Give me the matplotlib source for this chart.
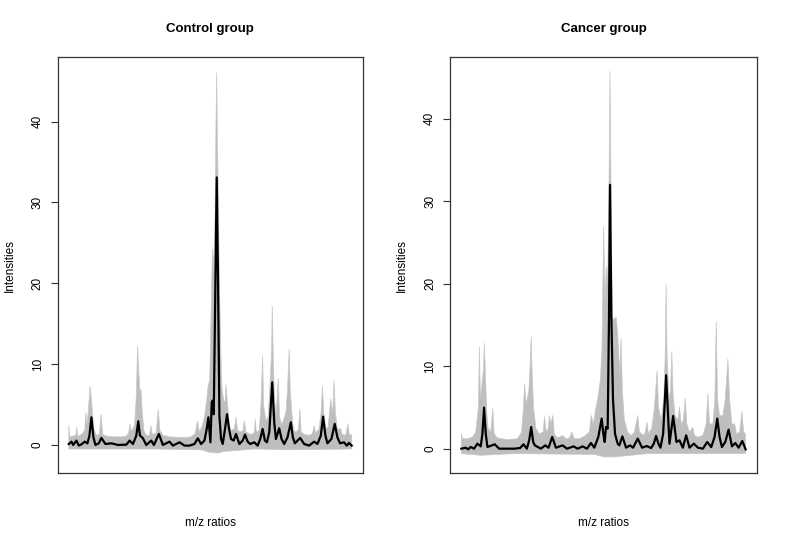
import numpy as np
import matplotlib
matplotlib.use("Agg")
import matplotlib.pyplot as plt

plt.rcParams['font.family'] = ['Liberation Sans', 'DejaVu Sans']

# m/z index (position along the spectrum) and intensities
# black line = mean spectrum, grey band = range covered by the individual spectra
ctrl_mean_x = [42, 50, 55, 65, 72, 80, 90, 98, 104, 110, 116, 122, 132, 140, 152, 170, 190, 215,
               225, 235, 245, 251, 256, 260, 265, 275, 290, 298, 313, 325, 345, 355, 375, 390,
               405, 420, 430, 440, 450, 457, 462, 468, 472, 475, 478, 483, 487, 491, 495, 500,
               505, 512, 518, 524, 530, 538, 545, 555, 565, 572, 580, 588, 600, 610, 618, 625,
               632, 638, 645, 654, 660, 665, 675, 682, 690, 700, 710, 716, 722, 738, 750, 765,
               780, 790, 800, 807, 814, 820, 832, 842, 850, 858, 870, 878, 885, 893]
ctrl_mean_y = [0.12, 0.41, 0.0, 0.54, -0.08, 0.08, 0.41, 0.2, 1.15, 3.42, 0.95, 0.0, 0.2, 0.87,
               0.12, 0.2, 0.0, 0.04, 0.54, 0.12, 1.15, 2.93, 1.15, 1.03, 0.82, 0.0, 0.54, 0.0,
               1.36, 0.0, 0.41, -0.08, 0.33, -0.08, -0.08, 0.12, 0.82, 0.12, 0.54, 2.0, 3.42,
               0.33, 5.28, 5.5, 3.8, 20.0, 33.1, 20.0, 3.6, 0.74, 0.12, 2.0, 3.8, 2.0, 0.74,
               0.54, 1.36, 0.12, 0.54, 1.28, 0.41, 0.12, 0.33, -0.08, 0.74, 1.98, 0.54, 0.33,
               1.57, 7.75, 2.8, 0.74, 2.06, 0.74, 0.12, 0.95, 2.8, 0.95, 0.2, 0.87, 0.12, -0.08,
               0.41, 0.12, 1.15, 3.5, 1.15, 0.2, 0.74, 2.6, 0.95, 0.2, 0.33, -0.08, 0.25, -0.08]

ctrl_upper_x = [42, 45, 55, 63, 66, 69, 80, 90, 93, 96, 100, 104, 106, 109, 113, 118, 124, 134,
                139, 144, 155, 175, 200, 215, 222, 226, 230, 240, 245, 249, 252, 256, 259, 263,
                268, 275, 285, 289, 293, 305, 311, 316, 325, 345, 371, 390, 410, 422, 429, 435,
                445, 452, 458, 461, 466, 470, 474, 478, 482, 485, 487, 489, 492, 495, 499, 503,
                508, 512, 515, 519, 525, 530, 540, 545, 550, 560, 566, 570, 575, 590, 600, 603,
                606, 615, 620, 625, 628, 635, 642, 648, 652, 654, 657, 661, 666, 672, 676, 683,
                695, 700, 705, 708, 713, 718, 727, 733, 737, 741, 750, 765, 775, 780, 785, 795,
                801, 805, 809, 815, 822, 830, 836, 840, 844, 850, 860, 865, 875, 882, 886, 893]
ctrl_upper_y = [2.4, 1.0, 1.1, 1.2, 2.2, 1.1, 1.3, 1.8, 4.0, 2.5, 4.0, 6.0, 7.3, 6.1, 4.0, 2.0,
                1.2, 1.3, 3.8, 1.3, 1.1, 1.0, 1.0, 1.1, 1.5, 2.6, 1.6, 2.5, 6.0, 12.3, 9.5, 6.5,
                6.9, 4.0, 1.8, 1.2, 1.2, 2.4, 1.3, 1.5, 4.4, 1.8, 1.2, 1.0, 0.95, 0.9, 1.0, 1.4,
                3.0, 1.6, 2.5, 4.0, 6.0, 7.3, 8.0, 16.0, 24.2, 22.0, 28.4, 40.7, 46.1, 38.0, 30.0,
                20.0, 11.9, 7.0, 5.5, 5.3, 7.5, 5.3, 2.5, 1.8, 2.0, 3.4, 1.8, 1.6, 1.8, 3.0, 1.6,
                1.3, 1.5, 3.2, 1.6, 1.8, 4.9, 11.05, 4.9, 3.0, 3.5, 8.0, 11.5, 17.2, 11.0, 5.5,
                4.0, 8.2, 3.5, 2.5, 4.0, 6.9, 11.9, 6.9, 4.0, 1.8, 1.6, 2.0, 4.45, 1.6, 1.3, 1.2,
                1.4, 2.4, 1.5, 2.0, 4.0, 7.3, 4.0, 2.0, 2.2, 5.7, 4.0, 8.0, 4.0, 2.0, 2.0, 1.3,
                1.2, 2.6, 1.2, 1.3]

ctrl_lower_x = [42, 100, 200, 300, 440, 465, 490, 510, 600, 700, 893]
ctrl_lower_y = [-0.5, -0.5, -0.5, -0.5, -0.6, -0.9, -1.0, -0.8, -0.5, -0.6, -0.5]

canc_mean_x = [42, 55, 62, 70, 80, 90, 100, 105, 110, 115, 120, 142, 155, 200, 218, 228, 238,
               245, 251, 257, 262, 280, 293, 303, 314, 325, 345, 358, 378, 390, 405, 418, 430,
               440, 452, 462, 467, 471, 475, 480, 484, 487, 491, 496, 502, 510, 515, 524, 535,
               547, 556, 570, 583, 597, 610, 618, 625, 632, 638, 646, 655, 661, 665, 676, 686,
               695, 705, 715, 725, 738, 750, 765, 778, 790, 800, 808, 815, 822, 832, 842, 852,
               862, 872, 883, 893]
canc_mean_y = [0.0, 0.12, -0.08, 0.2, 0.0, 0.61, 0.28, 1.8, 4.98, 1.8, 0.2, 0.53, 0.0, 0.0, 0.08,
               0.53, 0.0, 1.0, 2.63, 0.81, 0.4, 0.0, 0.4, 0.12, 1.42, 0.12, 0.4, 0.0, 0.28, 0.0,
               0.28, 0.0, 0.69, 0.12, 1.42, 3.65, 1.8, 0.81, 2.63, 2.43, 16.0, 32.0, 16.0, 5.9,
               1.8, 0.6, 0.4, 1.5, 0.12, 0.4, 0.12, 1.22, 0.12, 0.32, 0.08, 0.6, 1.54, 0.6, 0.12,
               1.8, 8.9, 3.85, 0.6, 3.97, 0.81, 1.01, 0.12, 1.62, 0.12, 0.61, 0.12, 0.0, 0.81,
               0.2, 1.42, 3.65, 1.42, 0.2, 0.81, 2.31, 0.28, 0.69, 0.12, 0.93, -0.08]

canc_upper_x = [42, 46, 60, 75, 85, 93, 96, 99, 104, 108, 111, 114, 118, 122, 130, 136, 140, 150,
                180, 210, 222, 228, 231, 236, 244, 248, 251, 254, 258, 265, 275, 287, 291, 296,
                302, 306, 310, 316, 320, 330, 346, 355, 365, 373, 380, 395, 410, 425, 431, 437,
                445, 452, 458, 463, 468, 472, 476, 480, 484, 487, 490, 494, 500, 505, 510, 516,
                520, 524, 530, 540, 550, 560, 570, 575, 590, 598, 602, 612, 620, 628, 632, 640,
                648, 652, 655, 658, 664, 668, 672, 676, 682, 690, 695, 700, 707, 712, 717, 725,
                735, 740, 750, 765, 775, 780, 785, 795, 801, 805, 809, 815, 825, 832, 840, 845,
                852, 860, 866, 875, 882, 887, 893]
canc_upper_y = [1.8, 1.2, 1.2, 1.4, 2.0, 5.0, 12.4, 6.0, 8.0, 9.5, 12.8, 9.0, 4.5, 2.5, 2.0, 4.9,
                1.8, 1.3, 1.1, 1.2, 2.0, 5.0, 7.9, 5.5, 7.0, 10.3, 13.6, 9.0, 5.0, 2.5, 1.8, 2.0,
                3.9, 2.0, 2.5, 4.05, 3.0, 4.05, 1.8, 1.3, 1.6, 1.2, 1.3, 2.0, 1.2, 1.2, 1.5, 2.0,
                4.05, 3.0, 5.0, 6.5, 8.3, 12.0, 26.95, 18.0, 22.1, 20.06, 32.2, 45.8, 32.2, 16.0,
                15.6, 16.0, 14.0, 9.0, 13.4, 7.0, 3.5, 2.0, 1.6, 2.0, 4.05, 2.0, 1.6, 3.2, 1.8,
                2.5, 5.0, 9.5, 5.0, 3.5, 6.0, 11.0, 19.9, 11.0, 6.0, 7.0, 11.75, 6.5, 4.0, 3.5,
                5.07, 3.0, 3.5, 6.1, 3.0, 2.0, 2.6, 1.6, 1.4, 1.6, 3.0, 6.7, 3.0, 3.0, 6.0, 15.4,
                6.0, 4.0, 4.0, 6.0, 10.9, 6.0, 3.0, 3.0, 1.8, 2.0, 4.5, 2.0, 1.8]

canc_lower_x = [42, 100, 200, 440, 470, 500, 600, 893]
canc_lower_y = [-0.6, -0.8, -0.6, -0.7, -1.0, -1.0, -0.6, -0.6]

yticks = [0, 10, 20, 30, 40]

panels = [
    ("Control group", ctrl_mean_x, ctrl_mean_y, ctrl_upper_x, ctrl_upper_y,
     ctrl_lower_x, ctrl_lower_y, (-3.47, 48.0), [57.5 / 786, 0.1321, 305.5 / 786, 0.7633]),
    ("Cancer group", canc_mean_x, canc_mean_y, canc_upper_x, canc_upper_y,
     canc_lower_x, canc_lower_y, (-2.95, 47.5), [450 / 786, 0.1321, 307 / 786, 0.7633]),
]

fig = plt.figure(figsize=(7.86, 5.45), dpi=100)

for title, mx, my, ux, uy, lx, ly, ylim, rect in panels:
    ax = fig.add_axes(rect)
    # grey band covering all individual spectra
    px = np.concatenate([ux, lx[::-1]])
    py = np.concatenate([uy, ly[::-1]])
    ax.fill(px, py, color="#bebebe", lw=0.5, edgecolor="#c8c8c8")
    # mean spectrum
    ax.plot(mx, my, color="black", lw=1.6)

    ax.set_xlim(42 - 0.04 * 851, 893 + 0.04 * 851)
    ax.set_ylim(*ylim)
    ax.set_xticks([])
    ax.set_yticks(yticks)
    ax.set_yticklabels([str(t) for t in yticks], rotation=90, va="center", fontsize=8.5)
    ax.tick_params(axis="y", length=5, pad=5, width=0.8, color="#333333")
    for s in ax.spines.values():
        s.set_linewidth(0.9)
        s.set_color("#333333")

    cx = rect[0] + rect[2] / 2
    fig.text(cx, 1 - 29 / 545, title, ha="center", va="center", fontsize=9.5, fontweight="bold")
    fig.text(cx, 1 - 523 / 545, "m/z ratios", ha="center", va="center", fontsize=8.5)
    fig.text(rect[0] - 48 / 786, rect[1] + rect[3] / 2, "Intensities", ha="center", va="center",
             rotation=90, fontsize=8.5)

fig.savefig("out.png", dpi=100)
